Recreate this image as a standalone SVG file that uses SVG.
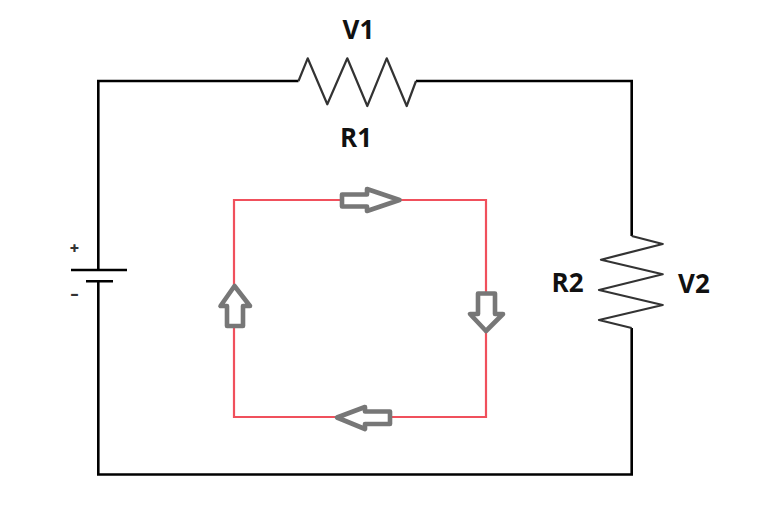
<svg xmlns="http://www.w3.org/2000/svg" width="768" height="522" viewBox="0 0 768 522">
<style>
.wire{fill:none;stroke:#000;stroke-width:2.6;stroke-linejoin:miter}
.res{fill:none;stroke:#333;stroke-width:2.2;stroke-linejoin:round}
.loop{fill:none;stroke:#f0505c;stroke-width:2.2}
.arr{fill:#fff;stroke:#777;stroke-width:4.600;stroke-linejoin:round}
text{font-family:"Open Sans","Liberation Sans",sans-serif;font-weight:700;fill:#111;text-anchor:middle}
.lbl{font-size:26px}
.pol{font-size:16px;font-weight:800;fill:#333}
</style>
<rect width="768" height="522" fill="#fff"/>
<g id="connectors">
<path class="wire" d="M298.500 81H98.300V270M98.300 281V474.500H631.700V328M631.700 236V81H416"/>
<path class="loop" d="M234 200H486V417H234Z"/>
</g>
<g id="R1"><path class="res" d="M298.500 81L307.700 58.300L327.300 104.300L347.300 58.300L367.300 106L386.700 58.300L406.700 106L416 81"/></g>
<g id="R2"><path class="res" d="M631.700 236L662.700 244L601 259.700L662.700 274.300L599 290L662.700 305L599 320L631.700 328"/></g>
<g id="battery">
<path class="wire" d="M71 270H127M86 281.300H113"/>
<text class="pol" x="74.500" y="254">+</text>
<text class="pol" x="74.500" y="299">–</text>
</g>
<g id="label-V1"><text class="lbl" x="358.500" y="38.500">V1</text></g>
<g id="label-R1"><text class="lbl" x="356" y="147">R1</text></g>
<g id="label-R2"><text class="lbl" x="567.500" y="291.500">R2</text></g>
<g id="label-V2"><text class="lbl" x="694" y="292.500">V2</text></g>
<g id="arrow-right"><path class="arr" d="M342 194.500H367V189L399.500 200L367 211V206.500H342Z"/></g>
<g id="arrow-down"><path class="arr" d="M478 293.500H495V314H503L486 331L470 314H478Z"/></g>
<g id="arrow-left"><path class="arr" d="M390 411.500H365V407L337 417.500L365 429V424H390Z"/></g>
<g id="arrow-up"><path class="arr" d="M227 326H243V306H250L234.500 286L220.500 306H227Z"/></g>
</svg>
